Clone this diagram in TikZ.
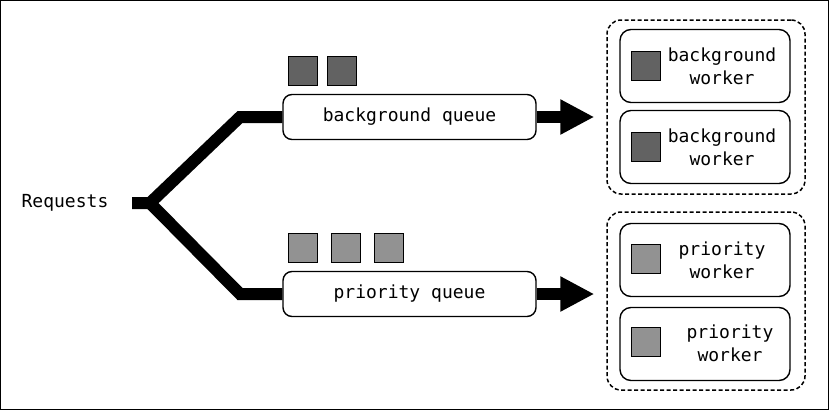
\documentclass[tikz,border=0pt]{standalone}
\usepackage{fontspec}
\setmonofont{DejaVu Sans Mono}
\usetikzlibrary{arrows.meta}
\definecolor{bgsq}{RGB}{98,98,98}
\definecolor{prsq}{RGB}{146,146,146}
\begin{document}
\begin{tikzpicture}[x=1pt,y=-1pt,
  font=\ttfamily\fontsize{18}{23}\selectfont,
  pipe/.style={line width=12pt, line join=miter},
  queuebox/.style={draw, line width=1.4pt, rounded corners=9pt, fill=white, minimum width=253pt, minimum height=45pt, inner sep=0pt},
  groupbox/.style={draw, dashed, dash pattern=on 4pt off 2.5pt, line width=1.5pt, rounded corners=14pt, minimum width=198pt, inner sep=0pt},
  workerbox/.style={draw, line width=1.4pt, rounded corners=11pt, minimum width=170pt, minimum height=73pt, inner sep=0pt},
  sq/.style={draw, line width=0.8pt, minimum size=29pt, inner sep=0pt},
  lbl/.style={align=center, inner sep=0pt}]
\useasboundingbox (0,0) rectangle (829,410);
\draw[line width=1pt] (0.5,0.5) rectangle (828.5,409.5);

% left
\node[inner sep=0pt] (req) at (65,203) {Requests};
\coordinate (stub) at (132,203);
\coordinate (fork) at (150,203);
\coordinate (b1) at (240,117);
\coordinate (b2) at (240,294);

% queues
\node[queuebox] (bq) at (409.5,117) {background queue};
\node[queuebox] (pq) at (409.5,294) {priority queue};

\draw[pipe] (stub) -- (fork) -- (b1) -- (bq.west);
\draw[pipe] (fork) -- (b2) -- (pq.west);

% queue items
\node[sq, fill=bgsq] (bs1) at (303,71) {};
\node[sq, fill=bgsq] (bs2) at (342,71) {};
\node[sq, fill=prsq] (ps1) at (303,248) {};
\node[sq, fill=prsq] (ps2) at (346,248) {};
\node[sq, fill=prsq] (ps3) at (389,248) {};

% groups
\node[groupbox, minimum height=174pt] (bg) at (706,107) {};
\node[groupbox, minimum height=178pt] (pg) at (706,301) {};

% arrows
\draw[line width=12pt, -{Triangle[length=34pt,width=33pt]}, shorten >=12pt] (bq.east) -- (bq.east -| bg.west);
\draw[line width=12pt, -{Triangle[length=34pt,width=33pt]}, shorten >=12pt] (pq.east) -- (pq.east -| pg.west);

% workers
\node[workerbox] (bw1) at (705,66) {};
\node[workerbox] (bw2) at (705,147) {};
\node[workerbox] (pw1) at (705,260) {};
\node[workerbox] (pw2) at (705,344) {};

\node[sq, fill=bgsq] (bws1) at (646,66) {};
\node[sq, fill=bgsq] (bws2) at (646,147) {};
\node[sq, fill=prsq] (pws1) at (646,259) {};
\node[sq, fill=prsq] (pws2) at (646,342) {};

\node[lbl] (bwt1) at (722,66) {background\\worker};
\node[lbl] (bwt2) at (722,147) {background\\worker};
\node[lbl] (pwt1) at (722,260) {priority\\worker};
\node[lbl] (pwt2) at (730,343) {priority\\worker};
\end{tikzpicture}
\end{document}
